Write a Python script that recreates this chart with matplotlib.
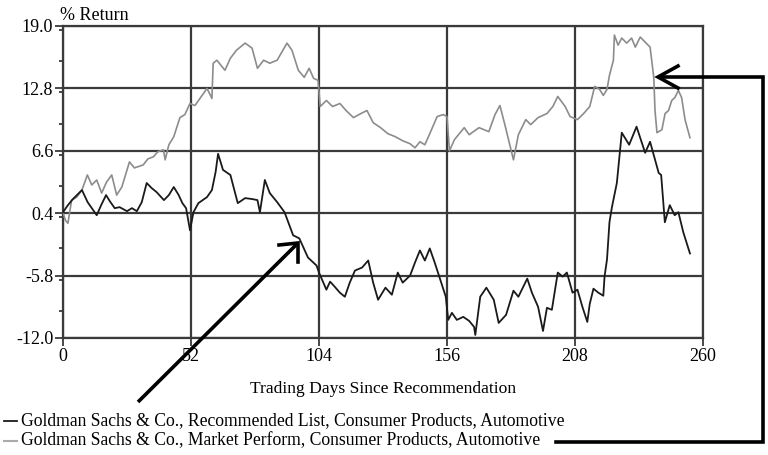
import matplotlib
matplotlib.use("Agg")
import matplotlib.pyplot as plt
from matplotlib.lines import Line2D
from matplotlib.ticker import MultipleLocator

plt.rcParams['font.family'] = ['Liberation Serif', 'DejaVu Serif']

# ---------------- data ----------------
rec_days = [0, 2, 4, 7.7, 10, 13.7, 15.5, 17.5, 19, 21, 23, 26, 28, 30, 32, 34, 36, 38, 41, 43,
            45, 47, 48.5, 50, 51.6, 53, 55, 58.5, 60.5, 62, 63, 65, 68, 71, 74, 77, 79, 80, 82, 84,
            87, 90, 93.5, 96, 99.5, 103, 104, 107, 108.5, 110, 112.5, 114.5, 116.5, 118.6, 121.5,
            124, 126, 128, 131, 133.6, 136, 138, 141, 143, 145, 147, 149, 151, 153, 155.5, 156.5,
            158, 160, 162.6, 165, 167, 167.5, 169.5, 172, 175, 177, 180, 183, 185, 187, 188.6,
            190.5, 193, 195, 196.6, 198.6, 201, 203, 204.7, 207, 209, 211, 213, 214, 215.5, 217.5,
            219.5, 220, 221, 222, 223, 225, 227, 230, 233, 236.5, 238.5, 242, 243, 244.5, 246.5,
            248.5, 250, 252, 254.7]
rec_vals = [0.5, 1.2, 1.8, 2.7, 1.5, 0.2, 1.2, 2.2, 1.6, 0.9, 1.0, 0.6, 0.9, 0.6, 1.5, 3.4, 2.9, 2.5, 1.7, 2.2,
            3.0, 2.2, 1.4, 0.9, -1.3, 0.5, 1.4, 2.0, 2.7, 4.5, 6.3, 4.7, 4.2, 1.4, 1.9, 1.8, 1.7, 0.5, 3.7, 2.4,
            1.5, 0.5, -1.8, -2.1, -4.0, -4.8, -5.5, -7.2, -6.4, -6.8, -7.5, -7.9, -6.5, -5.3, -5.0,
            -4.3, -6.5, -8.2, -7.0, -7.7, -5.5, -6.5, -5.8, -4.5, -3.3, -4.3, -3.1, -4.5, -6.0, -7.9, -10.2,
            -9.5, -10.2, -9.9, -10.3, -10.9, -11.7, -7.9, -7.0, -8.2, -10.5, -9.7, -7.3, -7.9, -6.9, -6.1,
            -7.5, -8.9, -11.3, -9.0, -9.2, -5.5, -5.9, -5.5, -7.5, -7.2, -8.9, -10.4, -8.6, -7.1, -7.5,
            -7.8, -5.9, -4.2, -0.5, 1.0, 3.4, 8.4, 7.2, 9.0, 6.4, 7.5, 4.4, 4.2, -0.5, 1.2,
            0.2, 0.5, -1.5, -3.6]

mp_days = [0, 1, 2, 3.5, 5.6, 7.7, 9.9, 11.7, 13.7, 15.7, 17.7, 19.8, 21.8, 23.9, 27, 29, 32.6, 34.5,
           36.7, 38.5, 40.8, 41.5, 43, 45, 47.5, 49.5, 51.6, 53.6, 56.5, 58.5, 60.5, 61, 62.5, 65.8,
           68, 70.5, 74, 76.8, 79, 81.5, 84, 87, 91, 93, 95.6, 98, 100, 101.8, 103.6, 104.5, 107,
           109.5, 112.5, 115, 118, 121, 123.5, 126, 129, 132, 135, 138, 141, 143, 145, 147, 149,
           152, 154.5, 156, 157, 159, 161, 163, 165, 169, 173, 175.5, 177.5, 179.5, 181.5, 183,
           185, 188, 190, 193, 196.6, 199, 201, 204, 206, 209, 211.5, 214, 216, 218, 219.5, 221,
           222, 223.6, 224, 225.5, 227, 229, 231, 232.5, 234.5, 236.5, 238.5, 240, 240.5, 241.3,
           243.3, 244.6, 246, 247.3, 248.6, 250, 251.3, 252.7, 254.7]
mp_vals = [0.4, -0.3, -0.6, 1.7, 2.0, 2.7, 4.2, 3.2, 3.7, 2.4, 3.5, 4.2, 2.2, 3.0, 5.5, 4.9, 5.2, 5.8,
           6.0, 6.5, 6.7, 5.7, 7.2, 8.0, 9.9, 10.2, 11.3, 11.1, 12.1, 12.8, 11.8, 15.3, 15.6, 14.6,
           15.8, 16.6, 17.3, 16.8, 14.8, 15.6, 15.3, 15.6, 17.3, 16.6, 14.6, 13.9, 14.8, 13.8, 13.6, 11.0, 11.6,
           11.0, 11.3, 10.6, 9.9, 10.3, 10.6, 9.4, 8.9, 8.3, 8.0, 7.6, 7.3, 6.9, 7.5, 7.2, 8.3,
           10.0, 10.2, 10.0, 6.6, 7.7, 8.3, 8.9, 8.2, 8.9, 8.5, 10.2, 11.1, 9.2, 7.2, 5.7,
           8.2, 9.7, 9.2, 9.9, 10.3, 11.0, 12.0, 11.0, 10.0, 9.7, 10.3, 11.0, 13.0, 12.7, 12.1, 12.7,
           14.1, 15.6, 18.1, 17.1, 17.8, 17.3, 17.8, 16.9, 17.9, 17.4, 16.9, 13.9, 10.6, 8.4,
           8.7, 10.3, 10.6, 11.6, 11.9, 12.6, 11.9, 9.7, 7.9]

x_ticks = [0, 52, 104, 156, 208, 260]
y_ticks = [-12.0, -5.8, 0.4, 6.6, 12.8, 19.0]
rec_label = "Goldman Sachs & Co., Recommended List, Consumer Products, Automotive"
mp_label = "Goldman Sachs & Co., Market Perform, Consumer Products, Automotive"

# ---------------- figure ----------------
W, H = 768, 455
fig = plt.figure(figsize=(W / 100, H / 100), dpi=100)
ax = fig.add_axes([63 / W, 1 - 338 / H, 640 / W, 312 / H])

def fx(px):
    return px / W

def fy(py):
    return 1 - py / H

grid_c = '#3a3a3a'
ax.set_xlim(0, 260)
ax.set_ylim(-12, 19)
ax.set_xticks(x_ticks)
ax.set_xticklabels([str(t) for t in x_ticks])
ax.set_yticks(y_ticks)
ax.set_yticklabels([f"{t:.1f}" for t in y_ticks])
ax.yaxis.set_minor_locator(MultipleLocator(3.1))
ax.grid(True, which='major', color=grid_c, lw=1.6)
ax.tick_params(axis='both', which='major', length=6, width=1.3, color=grid_c,
               labelsize=13, pad=1)
ax.tick_params(axis='y', which='minor', length=3, width=1.3, color=grid_c)
for s in ax.spines.values():
    s.set_color(grid_c)
    s.set_linewidth(1.6)

ax.plot(mp_days, mp_vals, color='#8c8c8c', lw=1.2, zorder=3)
ax.plot(rec_days, rec_vals, color='#1a1a1a', lw=1.3, zorder=4)

ax.set_xlabel("Trading Days Since Recommendation", fontsize=12.6, labelpad=12)
fig.text(fx(60), fy(15), "% Return", fontsize=13, ha='left', va='center')

# legend (manual)
fig.add_artist(Line2D([fx(4), fx(17)], [fy(421), fy(421)], color='#1a1a1a', lw=1.3))
fig.text(fx(21), fy(421), rec_label, fontsize=12.7, ha='left', va='center')
fig.add_artist(Line2D([fx(4), fx(17)], [fy(441), fy(441)], color='#aaaaaa', lw=1.5))
fig.text(fx(21), fy(441), mp_label, fontsize=12.7, ha='left', va='center')

# arrows
aw = 2.6
# arrow 1
fig.add_artist(Line2D([fx(138), fx(298)], [fy(402), fy(243)], color='black', lw=aw,
                      solid_capstyle='butt'))
fig.add_artist(Line2D([fx(279), fx(298), fx(298)], [fy(245), fy(243), fy(262)],
                      color='black', lw=aw, solid_joinstyle='miter'))
# arrow 2
fig.add_artist(Line2D([fx(556), fx(763), fx(763), fx(660)],
                      [fy(442), fy(442), fy(77), fy(77)],
                      color='black', lw=aw, solid_joinstyle='miter'))
fig.add_artist(Line2D([fx(678), fx(658), fx(678)], [fy(66), fy(77), fy(88)],
                      color='black', lw=aw, solid_joinstyle='miter'))

fig.savefig("out.png", dpi=100)
